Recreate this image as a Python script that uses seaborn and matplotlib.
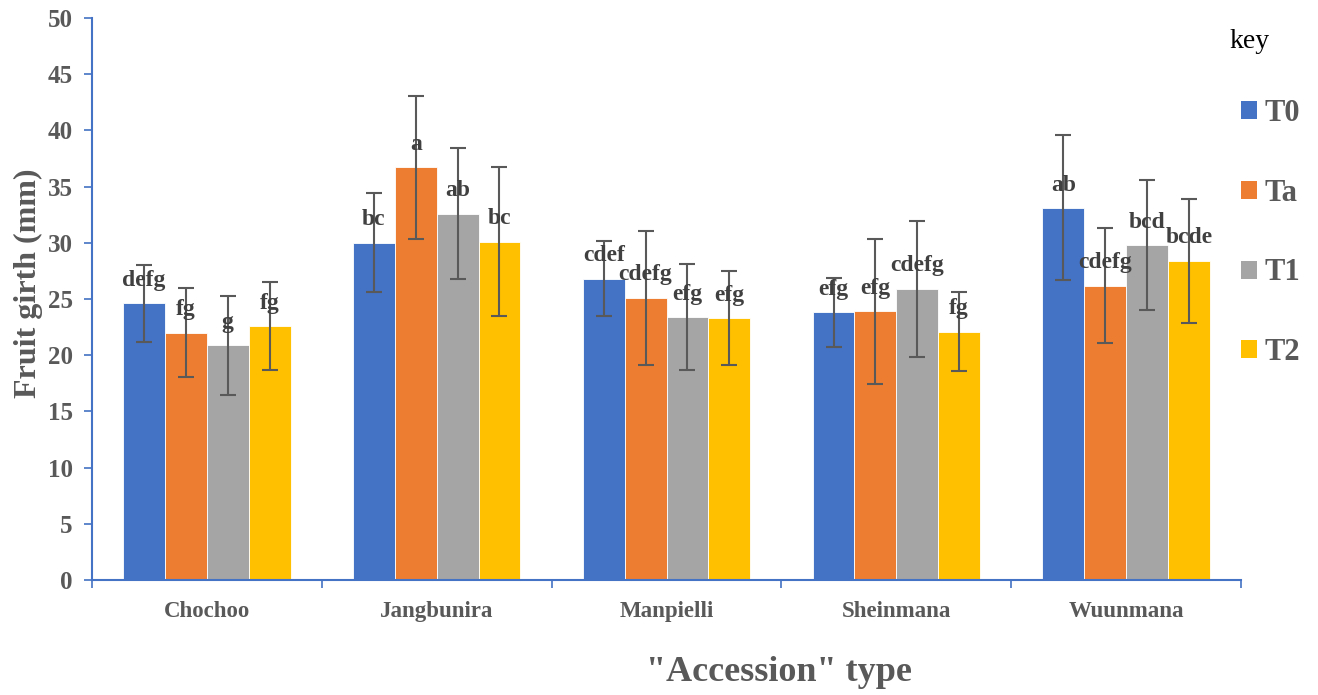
import matplotlib

matplotlib.use("Agg")
import matplotlib.pyplot as plt
import matplotlib.patches as mpatches
import seaborn as sns
import pandas as pd

# Data
accessions = ["Chochoo", "Jangbunira", "Manpielli", "Sheinmana", "Wuunmana"]
treatments = ["T0", "Ta", "T1", "T2"]

t0_mean = [24.6, 30.0, 26.8, 23.8, 33.1]
ta_mean = [22.0, 36.7, 25.1, 23.9, 26.2]
t1_mean = [20.9, 32.6, 23.4, 25.9, 29.8]
t2_mean = [22.6, 30.1, 23.3, 22.1, 28.4]

t0_err = [3.45, 4.4, 3.35, 3.1, 6.45]
ta_err = [3.95, 6.35, 5.95, 6.45, 5.1]
t1_err = [4.4, 5.8, 4.7, 6.05, 5.75]
t2_err = [3.95, 6.6, 4.2, 3.55, 5.5]

t0_letters = ["defg", "bc", "cdef", "efg", "ab"]
ta_letters = ["fg", "a", "cdefg", "efg", "cdefg"]
t1_letters = ["g", "ab", "efg", "cdefg", "bcd"]
t2_letters = ["fg", "bc", "efg", "fg", "bcde"]

means = [t0_mean, ta_mean, t1_mean, t2_mean]
errs = [t0_err, ta_err, t1_err, t2_err]
letters = [t0_letters, ta_letters, t1_letters, t2_letters]

colors = ["#4472C4", "#ED7D31", "#A5A5A5", "#FFC000"]
axis_blue = "#4472C4"
text_grey = "#595959"

# Long table for seaborn
rows = []
for t, vals in zip(treatments, means):
    for a, v in zip(accessions, vals):
        rows.append({"accession": a, "treatment": t, "girth": v})
df = pd.DataFrame(rows)

sns.set_style("white")
plt.rcParams["font.family"] = ["Liberation Serif", "DejaVu Serif"]

fig = plt.figure(figsize=(13.18, 6.95), dpi=100)
fig.patch.set_facecolor("white")
ax = fig.add_axes([92 / 1318, 1 - 580 / 695, 1149 / 1318, 562 / 695])

sns.barplot(
    data=df,
    x="accession",
    y="girth",
    hue="treatment",
    order=accessions,
    hue_order=treatments,
    palette=colors,
    width=0.728,
    gap=0,
    errorbar=None,
    saturation=1,
    edgecolor="white",
    linewidth=0.6,
    legend=False,
    ax=ax,
)

# Error bars and significance letters on each bar
for container, err_list, let_list in zip(ax.containers, errs, letters):
    for bar, e, lab in zip(container, err_list, let_list):
        xc = bar.get_x() + bar.get_width() / 2
        h = bar.get_height()
        ax.errorbar(
            xc, h, yerr=e,
            fmt="none",
            ecolor=text_grey,
            elinewidth=1.5,
            capsize=6,
            capthick=1.5,
            zorder=4,
        )
        ax.annotate(
            lab,
            xy=(xc, h),
            xytext=(0, 16.5),
            textcoords="offset points",
            ha="center",
            va="center",
            fontsize=17,
            fontweight="bold",
            color="#404040",
            zorder=5,
        )

# Axes styling
ax.set_ylim(0, 50)
ax.set_xlim(-0.5, len(accessions) - 0.5)
ax.set_yticks(range(0, 51, 5))
for side in ["top", "right"]:
    ax.spines[side].set_visible(False)
for side in ["left", "bottom"]:
    ax.spines[side].set_color(axis_blue)
    ax.spines[side].set_linewidth(1.5)

ax.tick_params(axis="y", length=6, width=1.2, color=axis_blue, pad=8,
               labelsize=18, labelcolor=text_grey, direction="out", left=True)
for lab in ax.get_yticklabels():
    lab.set_fontweight("bold")

ax.set_xticks([i - 0.5 for i in range(len(accessions) + 1)], minor=True)
ax.tick_params(axis="x", which="minor", length=6, width=1.2, color=axis_blue,
               direction="out", bottom=True)
ax.tick_params(axis="x", which="major", length=0, pad=15,
               labelsize=16.5, labelcolor=text_grey)
for lab in ax.get_xticklabels():
    lab.set_fontweight("bold")

ax.set_ylabel("Fruit girth (mm)", fontsize=23, fontweight="bold", color=text_grey)
ax.yaxis.set_label_coords(-0.043, 0.528)
ax.set_xlabel('"Accession" type', fontsize=26, fontweight="bold", color=text_grey)
ax.xaxis.set_label_coords(0.598, -0.136)

# Legend
fig.text(1250 / 1318, 1 - 42 / 695, "key", fontsize=20, color="black",
         ha="center", va="center")
handles = [mpatches.Patch(facecolor=c, edgecolor="none") for c in colors]
leg = fig.legend(
    handles, treatments,
    loc="upper left",
    bbox_to_anchor=(1241 / 1318, 1 - 99 / 695),
    bbox_transform=fig.transFigure,
    frameon=False,
    fontsize=22,
    handlelength=0.52,
    handleheight=0.52,
    handletextpad=0.26,
    labelspacing=1.66,
    borderpad=0,
    borderaxespad=0,
)
for t in leg.get_texts():
    t.set_fontweight("bold")
    t.set_color(text_grey)

fig.savefig("out.png", dpi=100, facecolor="white")
